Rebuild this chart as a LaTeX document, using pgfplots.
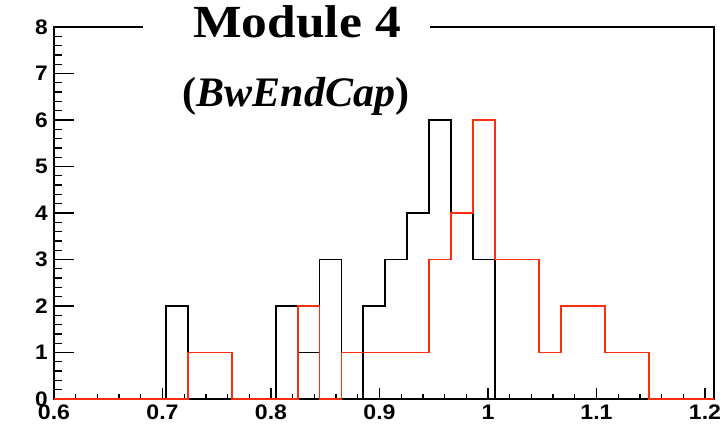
\documentclass[border=0pt]{standalone}
\usepackage{fontspec}
\usepackage{pgfplots}
\pgfplotsset{compat=1.18}
\setmainfont{Liberation Serif}
\newfontfamily\ticksans{Liberation Sans}
\definecolor{histred}{RGB}{250,45,15}

\begin{document}
\begin{tikzpicture}
\path[use as bounding box] (-54pt,-32pt) rectangle (673pt,399pt);

% y axis: frame, ticks and labels
\begin{axis}[
  scale only axis, width=660pt, height=372pt,
  xmin=0.6, xmax=1.2083, ymin=0, ymax=8,
  axis line style={line width=1.6pt},
  tick align=inside,
  xtick=\empty,
  ytick={0,1,2,3,4,5,6,7,8},
  minor y tick num=4,
  ytick pos=left,
  major tick length=20pt, minor tick length=8pt,
  every tick/.style={black, line width=1.3pt},
  /pgf/number format/assume math mode=true,
  yticklabel style={font=\ticksans\bfseries\fontsize{21}{21}\selectfont, inner sep=0pt, xshift=-6pt, xscale=1.08},
]
\end{axis}

% x axis and the two histograms
\begin{axis}[
  scale only axis, width=660pt, height=372pt,
  xmin=0.6, xmax=1.2083, ymin=0, ymax=8,
  clip=false,
  axis line style={line width=1.6pt},
  tick align=inside,
  ytick=\empty,
  xtick={0.6,0.7,0.8,0.9,1.0,1.1,1.2},
  xticklabels={0.6,0.7,0.8,0.9,1,1.1,1.2},
  minor x tick num=4,
  xtick pos=left,
  major tick length=11pt, minor tick length=5pt,
  every tick/.style={black, line width=1.3pt},
  xticklabel style={font=\ticksans\bfseries\fontsize{21}{21}\selectfont, inner sep=0pt, yshift=-6pt, xscale=1.1},
]
\addplot[const plot, black, line width=1.9pt] coordinates {
  (0.6,0) (0.7032,2) (0.7234,0) (0.8043,2) (0.8245,1) (0.8447,3) (0.8650,0)
  (0.8852,2) (0.9054,3) (0.9256,4) (0.9458,6) (0.9661,4) (0.9863,3) (1.0065,0)
  (1.2083,0)
};
\addplot[const plot, histred, line width=1.9pt] coordinates {
  (0.6,0) (0.7234,1) (0.7639,0) (0.8245,2) (0.8447,0) (0.8650,1) (0.9458,3)
  (0.9661,4) (0.9863,6) (1.0065,3) (1.0469,1) (1.0672,2) (1.1076,1) (1.1480,0)
  (1.2083,0)
};
\end{axis}

% title
\fill[white] (89pt,352pt) rectangle (376pt,395pt);
\node[anchor=base, font=\bfseries\fontsize{46}{46}\selectfont, xscale=1.12, inner sep=0pt] at (243pt,361pt) {Module 4};
\node[anchor=base, font=\bfseries\fontsize{42}{42}\selectfont, inner sep=0pt] at (242pt,292pt) {(\textit{BwEndCap})};
\end{tikzpicture}
\end{document}
